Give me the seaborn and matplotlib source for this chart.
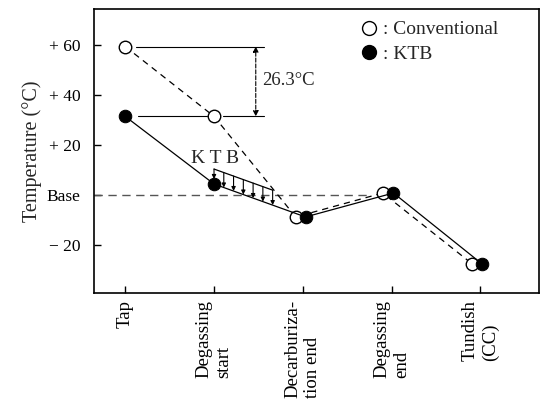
import numpy as np
import pandas as pd
import matplotlib
matplotlib.use("Agg")
import matplotlib.pyplot as plt
import seaborn as sns
from matplotlib.lines import Line2D

# ---- data ----
stages = ["Tap", "Degassing\nstart", "Decarburiza-\ntion end", "Degassing\nend", "Tundish\n(CC)"]
conventional = [59.5, 31.5, -8.8, 0.8, -27.7]
ktb = [31.5, 4.4, -8.8, 0.8, -27.7]
y_ticks = [60, 40, 20, 0, -20]
y_tick_labels = ["+ 60", "+ 40", "+ 20", "Base", "\u2212 20"]
diff_label = "26.3\u00b0C"

# small horizontal dodge of overlapping markers (style)
dodge_conv = [0, 0, -0.08, -0.10, -0.09]
dodge_ktb = [0, 0, 0.03, 0.02, 0.02]

sns.set_theme(style="ticks")
plt.rcParams["font.family"] = ["Liberation Serif", "DejaVu Serif"]

fig = plt.figure(figsize=(5.44, 4.13), dpi=100)
ax = fig.add_axes([0.173, 0.291, 0.818, 0.687])

idx = np.arange(len(stages))
df_c = pd.DataFrame({"x": idx + np.array(dodge_conv), "T": conventional})
df_k = pd.DataFrame({"x": idx + np.array(dodge_ktb), "T": ktb})

# base dashed line
ax.plot([-0.35, 2.75], [0, 0], color="#555555", lw=1.0, ls=(0, (6, 4)), zorder=1)

sns.lineplot(data=df_c, x="x", y="T", ax=ax, sort=False, color="black",
             linestyle=(0, (5, 4)), linewidth=0.9, marker="o", markersize=9,
             markerfacecolor="white", markeredgecolor="black", markeredgewidth=1.0,
             zorder=3)
sns.lineplot(data=df_k, x="x", y="T", ax=ax, sort=False, color="black",
             linestyle="-", linewidth=0.9, marker="o", markersize=9,
             markerfacecolor="black", markeredgecolor="black", zorder=4)

# 26.3 C annotation lines
xr = 1.56
ax.plot([0.12, xr], [conventional[0], conventional[0]], color="black", lw=0.8, zorder=2)
ax.plot([0.14, 0.92], [ktb[0], ktb[0]], color="black", lw=0.8, zorder=2)
ax.plot([1.1, xr], [ktb[0], ktb[0]], color="black", lw=0.8, zorder=2)
ax.annotate("", xy=(1.47, conventional[0]), xytext=(1.47, ktb[0]),
            arrowprops=dict(arrowstyle="<|-|>", color="black", lw=0.8, ls="--",
                            mutation_scale=8, shrinkA=0, shrinkB=0))
ax.text(1.54, 46, diff_label, fontsize=13.5, va="center", ha="left")

# KTB hatched reduction area
x0, x1 = 1.0, 1.66
slope = (ktb[2] - ktb[1]) / (2.03 - 1.0)
off = 6.0
ax.plot([x0, x1], [ktb[1] + off, ktb[1] + off + slope * (x1 - x0)], color="black", lw=0.9)
for xv in np.linspace(x0, x1, 7):
    ytop = ktb[1] + off + slope * (xv - x0)
    ybot = ktb[1] + slope * (xv - x0)
    if xv == x0:
        ybot = ktb[1] + 2.0
    ax.annotate("", xy=(xv, ybot), xytext=(xv, ytop),
                arrowprops=dict(arrowstyle="-|>", color="black", lw=0.8,
                                mutation_scale=6, shrinkA=0, shrinkB=0))
ax.text(1.01, 14.8, "K T B", fontsize=14, ha="center", va="center")

# legend
h1 = Line2D([], [], ls="none", marker="o", markersize=10, markerfacecolor="white",
            markeredgecolor="black")
h2 = Line2D([], [], ls="none", marker="o", markersize=10, markerfacecolor="black",
            markeredgecolor="black")
ax.legend([h1, h2], [": Conventional", ": KTB"], loc="upper left",
          bbox_to_anchor=(0.575, 1.0), frameon=False, fontsize=14,
          handletextpad=0.3, handlelength=0.8, labelspacing=0.35, borderaxespad=0.2)

ax.set_xlim(-0.35, 4.66)
ax.set_ylim(-39.2, 74.5)
ax.set_xticks(idx)
ax.set_xticklabels(stages, rotation=90, fontsize=13.5, va="top", ha="center")
for lab in ax.get_xticklabels():
    lab.set_multialignment("left")
ax.set_yticks(y_ticks)
ax.set_yticklabels(y_tick_labels, fontsize=12.5)
ax.tick_params(direction="in", length=5, width=1.0, colors="black")
ax.tick_params(axis="y", pad=10)
ax.tick_params(axis="x", pad=5)
ax.set_xlabel("")
ax.set_ylabel("Temperature (\u00b0C)", fontsize=14.5, labelpad=3)
for s in ax.spines.values():
    s.set_visible(True)
    s.set_linewidth(1.2)
    s.set_color("black")

fig.savefig("out.png", dpi=100, facecolor="white")
